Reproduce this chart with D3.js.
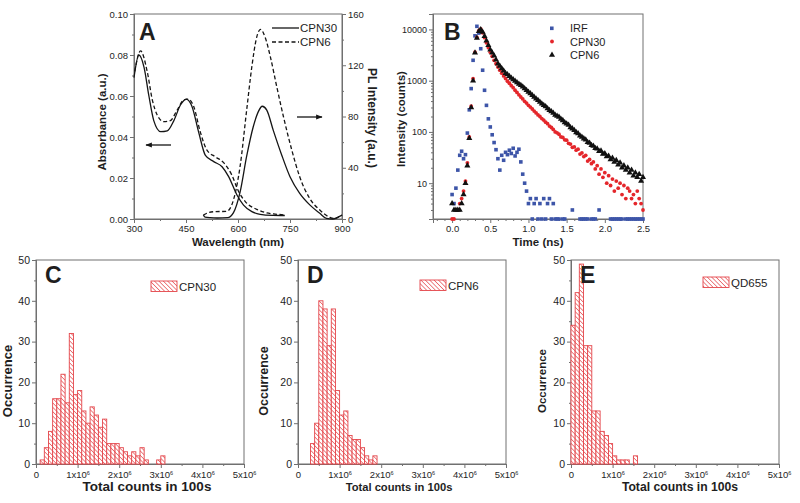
<!DOCTYPE html>
<html><head><meta charset="utf-8">
<script src="https://cdn.jsdelivr.net/npm/d3@7"></script>
<style>body{margin:0;background:#fff}svg{display:block}text{font-family:Arial,'Liberation Sans',sans-serif}</style>
</head><body><svg id="c" width="800" height="503"></svg>
<script>
// ---------- Panel A data ----------
const absWlCPN30 = [300,314,329,343,357,377,396,415,434,451,467,487,506,530,554,573,597,616,640,664,700,735];
const absCPN30   = [0.069,0.080,0.074,0.060,0.048,0.0426,0.043,0.048,0.0556,0.0585,0.055,0.042,0.031,0.028,0.0255,0.0207,0.0117,0.0068,0.0036,0.0023,0.0018,0.0017];
const absWlCPN6  = [302,319,338,353,367,386,405,424,443,455,472,491,510,534,558,582,602,621,654,683,707,735];
const absCPN6    = [0.072,0.082,0.072,0.058,0.0507,0.0475,0.048,0.053,0.058,0.0585,0.055,0.0426,0.0337,0.0304,0.0276,0.0215,0.0133,0.0085,0.0047,0.003,0.0024,0.002];
const plWlCPN30  = [500,505,520,540,570,587,606,625,644,659,670,683,702,726,750,778,807,836,855,874,893,900];
const plCPN30    = [3,1.5,1,0.8,1,5,21,49,72,84,88,85,69,50,33,20,11,4.4,0.5,0,2,3];
const plWlCPN6   = [500,510,530,568,587,606,625,640,654,665,678,693,712,731,755,778,807,836,865,880,893,900];
const plCPN6     = [3,4.5,5.7,6,15,41,85,119,142,148,142,127,103,80,54,33,16,7,1.3,0.3,2,3];
const absTicks = [0,0.02,0.04,0.06,0.08,0.10];
const plTicks = [0,40,80,120,160];
const wlTicks = [300,450,600,750,900];

// ---------- Panel B data ----------
const timeNs = [0.000,0.025,0.050,0.075,0.100,0.125,0.150,0.175,0.200,0.225,0.250,0.275,0.300,0.325,0.350,0.375,0.400,0.425,0.450,0.475,
0.500,0.525,0.550,0.575,0.600,0.625,0.650,0.675,0.700,0.725,0.750,0.775,0.800,0.825,0.850,0.875,0.900,0.925,0.950,0.975,
1.000,1.025,1.050,1.075,1.100,1.125,1.150,1.175,1.200,1.225,1.250,1.275,1.300,1.325,1.350,1.375,1.400,1.425,1.450,1.475,
1.500,1.525,1.550,1.575,1.600,1.625,1.650,1.675,1.700,1.725,1.750,1.775,1.800,1.825,1.850,1.875,1.900,1.925,1.950,1.975,
2.000,2.025,2.050,2.075,2.100,2.125,2.150,2.175,2.200,2.225,2.250,2.275,2.300,2.325,2.350,2.375,2.400,2.425,2.450,2.475,2.500];
const irf = [6,4,8,18,35,42,30,36,95,270,700,2500,7500,11500,8500,4200,1600,650,330,180,
125,88,62,45,30,18,35,28,40,36,44,38,48,34,40,46,26,15,10,7,
4,5,2,4,5,2,4,2,5,2,4,5,2,4,2,2,2,1,2,2,
1,1,1,3,1,1,1,2,2,2,2,2,1,2,2,2,1,3,1,1,
1,1,1,2,2,2,2,2,2,2,1,2,2,2,2,2,2,2,2,2,2];
const cpn30Decay = [2,2,3,3,4,5,7,11,25,80,320,1100,3600,7000,9500,10200,8600,6900,5500,4400,
3600,3000,2500,2150,1840,1600,1400,1240,1100,980,890,800,730,650,590,530,480,440,395,365,
330,305,280,255,235,215,200,182,170,155,145,130,122,112,100,96,90,80,78,70,
69,60,58,50,51,44,46,37,39,33,35,27,29,24,26,19,22,15,19,13,
16,10,14,9,12,7,11,8,10,6,9,5,8,7,5,6,4,7,5,4,3];
const cpn6Decay = [4,3,3,3,3,4,6,10,22,75,300,1000,3500,6800,9200,10000,8900,7400,6000,4900,
4000,3500,3050,2550,2150,1930,1720,1560,1400,1320,1220,1130,1050,990,920,860,810,760,700,650,
600,565,520,480,445,415,385,355,330,315,285,265,250,235,215,205,195,178,168,152,
145,136,122,116,108,98,93,84,80,74,70,63,61,55,53,48,47,42,43,37,
38,33,34,29,31,26,28,23,25,20,22,18,20,16,18,14,16,13,15,11,13];
const timeTicks = [0,0.5,1.0,1.5,2.0,2.5];
const intensityTicks = [10,100,1000,10000];

// ---------- Histogram data (bin width 1e5 counts, bins start at 0) ----------
const binWidth = 1e5;
const histCPN30 = [0,1,4,8,16,16,22,15,32,17,18,13,10,14,12,9,11,5,5,5,4,3,2,3,2,4,1,0,0,1,2];
const histCPN6  = [0,0,0,5,10,40,38,29,38,18,12,13,7,6,6,4,2,1,2];
const histQD655 = [34,42,49,29,29,13,13,8,7,5,2,1,1,1,0,2];
const countTicks = [0,1e6,2e6,3e6,4e6,5e6];
const occTicks = [0,10,20,30,40,50];

// ---------- drawing ----------
const svg = d3.select("#c");
const AX = "#707070", TXT = "#1e1e1e";
const defs = svg.append("defs");
const pat = defs.append("pattern").attr("id","hatch").attr("patternUnits","userSpaceOnUse")
  .attr("width",3.1).attr("height",3.1).attr("patternTransform","rotate(-45)");
pat.append("rect").attr("width",3.1).attr("height",3.1).attr("fill","#fff");
pat.append("line").attr("x1",0).attr("y1",0).attr("x2",0).attr("y2",3.1).attr("stroke","#e4464b").attr("stroke-width",1.3);

function styleAxis(g, fs){
  g.select(".domain").attr("stroke",AX);
  g.selectAll(".tick line").attr("stroke",AX);
  g.selectAll(".tick text").attr("fill",TXT).style("font-size",fs+"px");
}
function frame(x0,y0,x1,y1){
  svg.append("rect").attr("x",x0).attr("y",y0).attr("width",x1-x0).attr("height",y1-y0)
    .attr("fill","none").attr("stroke",AX).attr("stroke-width",1);
}
function label(txt,x,y,fs,rot,anchor,weight){
  const t = svg.append("text").attr("transform",`translate(${x},${y}) rotate(${rot||0})`)
    .attr("text-anchor",anchor||"middle").style("font-size",fs+"px").style("font-weight",weight||"bold")
    .attr("fill",TXT).text(txt);
  return t;
}

// ===== Panel A =====
const A = {l:134,r:342,t:14,b:219};
const xA = d3.scaleLinear([300,900],[A.l,A.r]);
const yAbs = d3.scaleLinear([0,0.10],[A.b,A.t]);
const yPL = d3.scaleLinear([0,160],[A.b,A.t]);
frame(A.l,A.t,A.r,A.b);
let g;
g = svg.append("g").attr("transform",`translate(${A.l},0)`).call(d3.axisLeft(yAbs).tickValues([0.01,0.03,0.05,0.07,0.09]).tickSize(2).tickFormat(""));styleAxis(g,9.5);
g = svg.append("g").attr("transform",`translate(${A.l},0)`).call(d3.axisLeft(yAbs).tickValues(absTicks).tickSize(4).tickPadding(2).tickFormat(d3.format(".2f")));styleAxis(g,9.5);
g = svg.append("g").attr("transform",`translate(${A.r},0)`).call(d3.axisRight(yPL).tickValues([20,60,100,140]).tickSize(2).tickFormat(""));styleAxis(g,9.5);
g = svg.append("g").attr("transform",`translate(${A.r},0)`).call(d3.axisRight(yPL).tickValues(plTicks).tickSize(4).tickPadding(2));styleAxis(g,9.5);
g = svg.append("g").attr("transform",`translate(0,${A.b})`).call(d3.axisBottom(xA).tickValues([375,525,675,825]).tickSize(2).tickFormat(""));styleAxis(g,9.5);
g = svg.append("g").attr("transform",`translate(0,${A.b})`).call(d3.axisBottom(xA).tickValues(wlTicks).tickSize(4).tickPadding(2));styleAxis(g,9.5);

function curve(xs,ys,yScale,dash){
  const pts = xs.map((x,i)=>[x,ys[i]]);
  svg.append("path").datum(pts)
    .attr("d",d3.line().x(d=>xA(d[0])).y(d=>yScale(d[1])).curve(d3.curveMonotoneX))
    .attr("fill","none").attr("stroke","#151515").attr("stroke-width",1.3)
    .attr("stroke-dasharray",dash?"4,2.5":null);
}
curve(absWlCPN6,absCPN6,yAbs,true);
curve(absWlCPN30,absCPN30,yAbs,false);
curve(plWlCPN6,plCPN6,yPL,true);
curve(plWlCPN30,plCPN30,yPL,false);

// legend A
svg.append("line").attr("x1",272).attr("x2",299).attr("y1",28).attr("y2",28).attr("stroke","#151515").attr("stroke-width",1.3);
svg.append("line").attr("x1",272).attr("x2",299).attr("y1",42).attr("y2",42).attr("stroke","#151515").attr("stroke-width",1.3).attr("stroke-dasharray","4,2.5");
label("CPN30",300,32,11.5,0,"start","normal");
label("CPN6",300,46,11.5,0,"start","normal");
// arrows
defs.append("marker").attr("id","arr").attr("viewBox","0 0 10 10").attr("refX",9).attr("refY",5)
  .attr("markerWidth",5).attr("markerHeight",5).attr("orient","auto")
  .append("path").attr("d","M0,1L10,5L0,9Z").attr("fill","#151515");
svg.append("line").attr("x1",171).attr("x2",146).attr("y1",145).attr("y2",145).attr("stroke","#151515").attr("stroke-width",1.3).attr("marker-end","url(#arr)");
svg.append("line").attr("x1",297).attr("x2",322).attr("y1",117).attr("y2",117).attr("stroke","#151515").attr("stroke-width",1.3).attr("marker-end","url(#arr)");
label("A",139,40,23,0,"start","bold");
label("Absorbance (a.u.)",106,122,11.5,-90);
label("PL Intensity (a.u.)",368,118,12,90);
label("Wavelength (nm)",238,246,11.5,0);

// ===== Panel B =====
const B = {l:433,r:643,t:14,b:219};
const xB = d3.scaleLinear([-0.25,2.5],[B.l,B.r]);
const yB = d3.scaleLog([2,20000],[B.b,B.t]);
frame(B.l,B.t,B.r,B.b);
const minorLog = [];
[1,10,100,1000,10000].forEach(dec=>{for(let k=2;k<=9;k++){const v=k*dec; if(v>=2&&v<=20000) minorLog.push(v);}});
g = svg.append("g").attr("transform",`translate(${B.l},0)`).call(d3.axisLeft(yB).tickValues(minorLog).tickSize(2).tickFormat(""));styleAxis(g,9);
g = svg.append("g").attr("transform",`translate(${B.l},0)`).call(d3.axisLeft(yB).tickValues(intensityTicks).tickSize(4).tickPadding(2).tickFormat(d3.format("d")));styleAxis(g,9);
g = svg.append("g").attr("transform",`translate(0,${B.b})`).call(d3.axisBottom(xB).tickValues([-0.2,-0.1,0.1,0.2,0.3,0.4,0.6,0.7,0.8,0.9,1.1,1.2,1.3,1.4,1.6,1.7,1.8,1.9,2.1,2.2,2.3,2.4]).tickSize(2).tickFormat(""));styleAxis(g,9.5);
g = svg.append("g").attr("transform",`translate(0,${B.b})`).call(d3.axisBottom(xB).tickValues(timeTicks).tickSize(4).tickPadding(2).tickFormat(d3.format(".1f")));styleAxis(g,9.5);

const ptsIRF = timeNs.map((t,i)=>[t,irf[i]]).filter(d=>d[1]>=2);
const pts30 = timeNs.map((t,i)=>[t,cpn30Decay[i]]).filter(d=>d[1]>=2);
const pts6 = timeNs.map((t,i)=>[t,cpn6Decay[i]]).filter(d=>d[1]>=2);
const BLUE="#3d55a8", RED="#e4262b", BLK="#111";
svg.append("g").selectAll("rect").data(ptsIRF).join("rect")
  .attr("x",d=>xB(d[0])-1.8).attr("y",d=>yB(d[1])-1.8).attr("width",3.6).attr("height",3.6).attr("fill",BLUE);
svg.append("g").selectAll("circle").data(pts30).join("circle")
  .attr("cx",d=>xB(d[0])).attr("cy",d=>yB(d[1])).attr("r",1.9).attr("fill",RED);
const tri = d3.symbol(d3.symbolTriangle,16);
svg.append("g").selectAll("path").data(pts6).join("path")
  .attr("d",tri).attr("transform",d=>`translate(${xB(d[0])},${yB(d[1])})`).attr("fill",BLK);
// legend B
svg.append("rect").attr("x",550).attr("y",26.5).attr("width",3.6).attr("height",3.6).attr("fill",BLUE);
svg.append("circle").attr("cx",552).attr("cy",41.5).attr("r",1.9).attr("fill",RED);
svg.append("path").attr("d",tri).attr("transform","translate(552,55)").attr("fill",BLK);
label("IRF",570,32,11,0,"start","normal");
label("CPN30",570,45.5,11,0,"start","normal");
label("CPN6",570,59,11,0,"start","normal");
label("B",444,40,23,0,"start","bold");
label("Intensity (counts)",405,119,11.5,-90);
label("Time (ns)",538,246,11.5,0);

// ===== Histograms =====
function hist(P,counts,name,letter,lg,titleCx,titleFs,occX,occFs){
  const x = d3.scaleLinear([0,5e6],[P.l,P.r]);
  const y = d3.scaleLinear([0,50],[P.b,P.t]);
  frame(P.l,P.t,P.r,P.b);
  let g;
  g = svg.append("g").attr("transform",`translate(${P.l},0)`).call(d3.axisLeft(y).tickValues([5,15,25,35,45]).tickSize(2).tickFormat(""));styleAxis(g,10.5);
  g = svg.append("g").attr("transform",`translate(${P.l},0)`).call(d3.axisLeft(y).tickValues(occTicks).tickSize(4).tickPadding(2));styleAxis(g,10.5);
  g = svg.append("g").attr("transform",`translate(0,${P.b})`).call(d3.axisBottom(x).tickValues([5e5,1.5e6,2.5e6,3.5e6,4.5e6]).tickSize(2).tickFormat(""));styleAxis(g,9.5);
  g = svg.append("g").attr("transform",`translate(0,${P.b})`).call(d3.axisBottom(x).tickValues(countTicks).tickSize(4).tickPadding(3).tickFormat(d=>d===0?"0":""));styleAxis(g,9.5);
  g.selectAll(".tick text").each(function(d){
    if(d===0) return;
    const t = d3.select(this);
    t.append("tspan").text((d/1e6)+"x10");
    t.append("tspan").attr("dy","-0.45em").style("font-size","5.5px").text("6");
  });
  const bins = counts.map((c,i)=>({x0:i*binWidth,x1:(i+1)*binWidth,c})).filter(d=>d.c>0);
  svg.append("g").selectAll("rect").data(bins).join("rect")
    .attr("x",d=>x(d.x0)).attr("width",d=>x(d.x1)-x(d.x0))
    .attr("y",d=>y(d.c)).attr("height",d=>y(0)-y(d.c))
    .attr("fill","url(#hatch)").attr("stroke","#e4464b").attr("stroke-width",0.9);
  svg.append("rect").attr("x",lg[0]).attr("y",lg[1]).attr("width",26).attr("height",10.5)
    .attr("fill","url(#hatch)").attr("stroke","#e4464b").attr("stroke-width",0.9);
  label(name,lg[0]+28,lg[1]+10,11.5,0,"start","normal");
  label(letter,P.l+9,283,23,0,"start","bold");
  label("Total counts in 100s",titleCx,491,titleFs,0);
  label("Occurrence",occX,381,occFs,-90);
}
hist({l:36,r:244,t:260,b:464},histCPN30,"CPN30","C",[151,281],147,13.5,12,13);
hist({l:298,r:506,t:260,b:464},histCPN6,"CPN6","D",[420,280],399,11.2,268,12.5);
hist({l:571,r:779,t:260,b:464},histQD655,"QD655","E",[703,277],680,12.2,546,11.5);
</script></body></html>
